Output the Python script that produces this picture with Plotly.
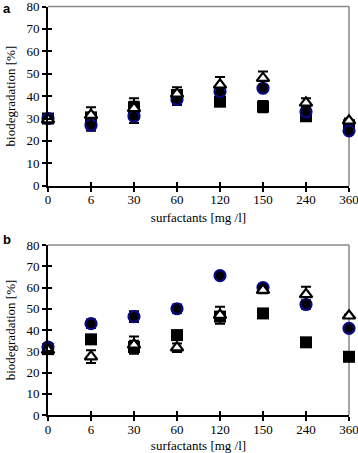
import plotly.graph_objects as go

categories = ["0", "6", "30", "60", "120", "150", "240", "360"]

# Panel a
a_square = [30, 30.5, 35, 40.5, 37.5, 35.3, 31, 27]
a_square_err = [2, 2, 2.5, 2, 1, 2.5, 1, 1]
a_circle = [30, 27, 31, 38.5, 42, 43.5, 33, 24.5]
a_circle_err = [1.5, 2.5, 3, 2.5, 2, 1, 1, 1]
a_triangle = [29.5, 31.5, 34.5, 41, 45, 48, 37, 29]
a_triangle_err = [1.5, 3.5, 4.5, 3, 3.5, 3, 2, 1]

# Panel b
b_square = [31, 35.6, 32, 37.6, 46.3, 47.8, 34.2, 27.4]
b_square_err = [2, 2, 3, 1, 2, 1.5, 0.5, 0.5]
b_circle = [32, 43, 46.3, 50, 65.6, 60, 52, 40.8]
b_circle_err = [1.5, 2, 2.5, 2, 0.5, 1.5, 2, 1]
b_triangle = [30.5, 27.5, 33, 31.7, 47, 58.8, 56.8, 46.7]
b_triangle_err = [1.5, 3, 4, 2, 4, 1.5, 3.5, 0.5]

yticks = [0, 10, 20, 30, 40, 50, 60, 70, 80]

FONT = "Liberation Serif"
W, H = 358, 453

fig = go.Figure()


def add_series(xa, ya, vals, errs, symbol, color, lcolor, lwidth, size):
    fig.add_trace(go.Scatter(
        x=categories, y=vals, mode="markers", xaxis=xa, yaxis=ya,
        cliponaxis=False,
        marker=dict(symbol=symbol, color=color, size=size,
                    line=dict(color=lcolor, width=lwidth)),
        error_y=dict(type="data", array=errs, visible=True, color="black",
                     thickness=2, width=5),
        showlegend=False,
    ))


for xa, ya, sq, sqe, ci, cie, tr, tre in [
    ("x", "y", a_square, a_square_err, a_circle, a_circle_err, a_triangle, a_triangle_err),
    ("x2", "y2", b_square, b_square_err, b_circle, b_circle_err, b_triangle, b_triangle_err),
]:
    add_series(xa, ya, sq, sqe, "square", "black", "black", 0, 12)
    add_series(xa, ya, ci, cie, "circle", "black", "#0a0a85", 2.2, 11)
    add_series(xa, ya, tr, tre, "triangle-up", "white", "black", 2.2, 11)

xdom = [48 / W, 349 / W]
ydom_a = [1 - 185.7 / H, 1 - 6.5 / H]
ydom_b = [1 - 415 / H, 1 - 245 / H]

tickfont = dict(family=FONT, size=13, color="black")
titlefont = dict(family=FONT, size=13, color="black")


def xaxis_main(anchor):
    return dict(domain=xdom, anchor=anchor, type="category",
                categoryorder="array", categoryarray=categories,
                range=[0, 7], showline=True, linecolor="black", linewidth=2,
                ticks="outside", ticklen=4, tickwidth=2, tickcolor="black",
                showgrid=False, zeroline=False, tickfont=tickfont,
                ticklabeloverflow="allow", ticklabelstandoff=-3,
                title=dict(text="surfactants [mg /l]", font=titlefont, standoff=7),
                automargin=False)


def yaxis_main(anchor, dom):
    return dict(domain=dom, anchor=anchor, range=[0, 80], tickvals=yticks,
                showline=True, linecolor="black", linewidth=2,
                ticks="outside", ticklen=4, tickwidth=2, tickcolor="black",
                showgrid=False, zeroline=False, tickfont=tickfont,
                ticklabeloverflow="allow",
                title=dict(text="biodegradation [%]", font=titlefont, standoff=8),
                automargin=False)


def x_inner(anchor, over):
    return dict(domain=xdom, anchor=anchor, overlaying=over, range=[0, 7],
                tickvals=list(range(len(categories))), ticks="inside", ticklen=4,
                tickwidth=2, tickcolor="black", showticklabels=False,
                showline=False, showgrid=False, zeroline=False, automargin=False)


def y_inner(anchor, over, dom):
    return dict(domain=dom, anchor=anchor, overlaying=over, range=[0, 80],
                tickvals=yticks, ticks="inside", ticklen=4, tickwidth=2,
                tickcolor="black", showticklabels=False, showline=False,
                showgrid=False, zeroline=False, automargin=False)


fig.update_layout(
    width=W, height=H,
    margin=dict(l=0, r=0, t=0, b=0),
    paper_bgcolor="white", plot_bgcolor="white",
    font=dict(family=FONT, size=13, color="black"),
    xaxis=xaxis_main("y"),
    yaxis=yaxis_main("x", ydom_a),
    xaxis2=xaxis_main("y2"),
    yaxis2=yaxis_main("x2", ydom_b),
    xaxis3=x_inner("y", "x"),
    yaxis3=y_inner("x", "y", ydom_a),
    xaxis4=x_inner("y2", "x2"),
    yaxis4=y_inner("x2", "y2", ydom_b),
    showlegend=False,
)

# dummy invisible traces so inner-tick axes are drawn
for xa, ya in [("x3", "y3"), ("x4", "y4")]:
    fig.add_trace(go.Scatter(x=[0], y=[0], xaxis=xa, yaxis=ya, mode="markers",
                             marker=dict(opacity=0), hoverinfo="skip",
                             showlegend=False))

# grey frame lines (top and right)
for xr, yr in [("x domain", "y domain"), ("x2 domain", "y2 domain")]:
    fig.add_shape(type="line", xref=xr, yref=yr, x0=0, x1=1, y0=1, y1=1,
                  line=dict(color="#888888", width=1.5), layer="below")
    fig.add_shape(type="line", xref=xr, yref=yr, x0=1, x1=1, y0=0, y1=1,
                  line=dict(color="#888888", width=1.5), layer="below")

for label, ypos in [("a", 1 - 0 / H), ("b", 1 - 231 / H)]:
    fig.add_annotation(text="<b>" + label + "</b>", xref="paper", yref="paper",
                       x=2 / W, y=ypos, xanchor="left", yanchor="top",
                       showarrow=False, borderpad=0,
                       font=dict(family="Liberation Sans", size=13, color="black"))

fig.write_html("out.html", config={"displayModeBar": False},
               post_script="document.body.style.margin='0';document.body.style.padding='0';")
